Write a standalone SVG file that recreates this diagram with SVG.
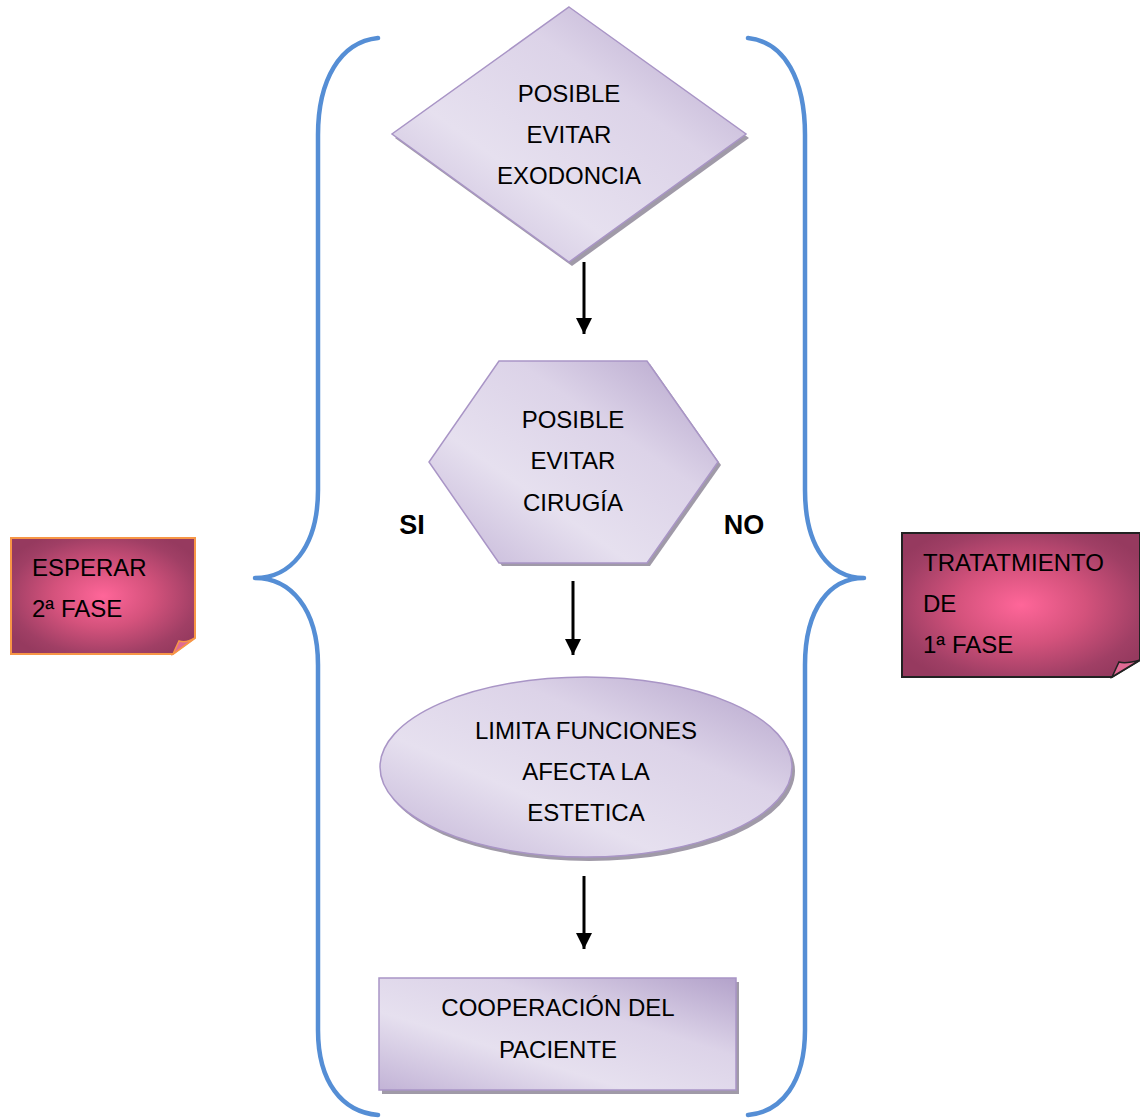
<svg xmlns="http://www.w3.org/2000/svg" width="1140" height="1120" viewBox="0 0 1140 1120">
<defs>
<linearGradient id="lav" x1="0" y1="1" x2="1" y2="0">
<stop offset="0" stop-color="#C2B3D6"/>
<stop offset="0.35" stop-color="#E6E0EF"/>
<stop offset="0.65" stop-color="#DCD3E8"/>
<stop offset="1" stop-color="#B3A2CA"/>
</linearGradient>
<radialGradient id="pink" cx="0.5" cy="0.5" r="0.6">
<stop offset="0" stop-color="#FF6699"/>
<stop offset="0.45" stop-color="#D4527C"/>
<stop offset="0.85" stop-color="#A03F65"/>
<stop offset="1" stop-color="#963A5F"/>
</radialGradient>
<marker id="ah" viewBox="0 0 16 16" refX="16" refY="8" markerWidth="16" markerHeight="16" markerUnits="userSpaceOnUse" orient="auto">
<path d="M0,0 L16,8 L0,16 Z" fill="#000"/>
</marker>
</defs>
<style>
.sh{fill:#A09AA8}
.lv{fill:url(#lav);stroke:#A995C6;stroke-width:1.5}
.t{font-family:"Liberation Sans",Arial,sans-serif;font-size:24px;fill:#000}
.c{text-anchor:middle}
.b{font-family:"Liberation Sans",Arial,sans-serif;font-size:27px;font-weight:bold;fill:#000;text-anchor:middle}
.br{fill:none;stroke:#558ED5;stroke-width:4.5;stroke-linecap:round;stroke-linejoin:round}
.cn{stroke:#000;stroke-width:3;fill:none}
.note{fill:url(#pink)}
</style>
<rect width="1140" height="1120" fill="#fff"/>

<g id="brace-left">
<path class="br" d="M378,38 C340,42 318,80 318,135 L318,490 C318,548 290,578 255,578 C290,578 318,608 318,665 L318,1030 C318,1082 342,1112 378,1115"/>
</g>
<g id="brace-right">
<path class="br" d="M748,38 C785,42 805,80 805,135 L805,490 C805,548 830,578 864,578 C830,578 805,608 805,665 L805,1030 C805,1082 782,1112 748,1115"/>
</g>

<g id="connectors">
<line class="cn" x1="584" y1="262" x2="584" y2="334" marker-end="url(#ah)"/>
<line class="cn" x1="573" y1="581" x2="573" y2="655" marker-end="url(#ah)"/>
<line class="cn" x1="584" y1="876" x2="584" y2="949" marker-end="url(#ah)"/>
</g>

<g id="node-exodoncia">
<polygon class="sh" points="572,11 749,138 572,266 395,138"/>
<polygon class="lv" points="569,7 746,134 569,262 392,134"/>
<text class="t c" x="569" y="102">POSIBLE</text>
<text class="t c" x="569" y="143">EVITAR</text>
<text class="t c" x="569" y="184">EXODONCIA</text>
</g>

<g id="node-cirugia">
<polygon class="sh" points="502,364 650,364 721,465 650,566 502,566 432,465"/>
<polygon class="lv" points="499,361 647,361 718,462 647,563 499,563 429,462"/>
<text class="t c" x="573" y="428">POSIBLE</text>
<text class="t c" x="573" y="469">EVITAR</text>
<text class="t c" x="573" y="511">CIRUGÍA</text>
</g>

<g id="label-si"><text class="b" x="412" y="534">SI</text></g>
<g id="label-no"><text class="b" x="744" y="534">NO</text></g>

<g id="node-limita">
<ellipse class="sh" cx="589" cy="771" rx="206" ry="90"/>
<ellipse class="lv" cx="586" cy="767" rx="206" ry="90"/>
<text class="t c" x="586" y="739">LIMITA FUNCIONES</text>
<text class="t c" x="586" y="780">AFECTA LA</text>
<text class="t c" x="586" y="821">ESTETICA</text>
</g>

<g id="node-cooperacion">
<rect class="sh" x="382" y="982" width="357" height="112"/>
<rect class="lv" x="379" y="978" width="357" height="112"/>
<text class="t c" x="558" y="1016">COOPERACIÓN DEL</text>
<text class="t c" x="558" y="1058">PACIENTE</text>
</g>

<g id="node-esperar">
<path class="note" d="M11,538 L195,538 L195,638 L173,654 L11,654 Z" stroke="#F79646" stroke-width="2"/>
<path d="M173,654 L179,641 C185,643 190,641 195,638 Z" fill="#E06A94" stroke="#F79646" stroke-width="1.5"/>
<text class="t" x="32" y="576">ESPERAR</text>
<text class="t" x="32" y="617">2ª FASE</text>
</g>

<g id="node-tratamiento">
<path class="note" d="M902,533 L1140,533 L1140,660 L1112,677 L902,677 Z" stroke="#222" stroke-width="2"/>
<path d="M1112,677 L1119,662 C1126,664 1133,662 1140,660 Z" fill="#E06A94" stroke="#222" stroke-width="1.5"/>
<text class="t" x="923" y="571">TRATATMIENTO</text>
<text class="t" x="923" y="612">DE</text>
<text class="t" x="923" y="653">1ª FASE</text>
</g>
</svg>
